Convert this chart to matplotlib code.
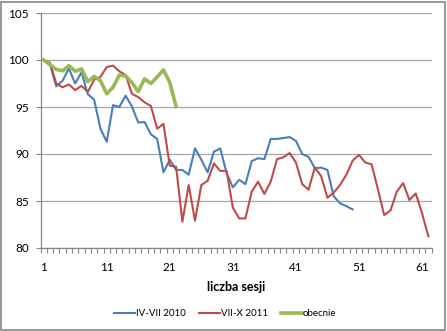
import matplotlib
matplotlib.use("Agg")
import matplotlib.pyplot as plt
from matplotlib.patches import Rectangle
from matplotlib.ticker import FixedLocator, NullFormatter

# Session index values (start = 100)
blue_2010 = [100.0, 99.55, 97.2, 97.8, 99.1, 97.5, 98.7, 96.35, 95.8, 92.7,
             91.3, 95.2, 95.0, 96.2, 95.05, 93.35, 93.4, 92.1, 91.6, 88.05,
             89.4, 88.3, 88.3, 87.8, 90.6, 89.4, 88.05, 90.25, 90.6, 88.0,
             86.45, 87.25, 86.8, 89.25, 89.55, 89.45, 91.6, 91.6, 91.7, 91.8,
             91.4, 90.0, 89.7, 88.5, 88.55, 88.3, 85.5, 84.75, 84.45, 84.1]
red_2011 = [100.0, 99.7, 97.5, 97.1, 97.4, 96.8, 97.25, 96.6, 97.9, 98.2,
            99.25, 99.4, 98.8, 98.4, 96.4, 96.05, 95.5, 95.1, 92.7, 93.2,
            88.75, 88.65, 82.8, 86.7, 82.9, 86.7, 87.15, 89.0, 88.2, 88.2,
            84.3, 83.15, 83.15, 86.0, 87.05, 85.75, 87.05, 89.45, 89.65, 90.1,
            89.1, 86.8, 86.2, 88.55, 87.65, 85.35, 85.9, 86.7, 87.8, 89.3,
            89.9, 89.1, 88.9, 86.25, 83.5, 84.0, 86.0, 86.9, 85.1, 85.8,
            83.7, 81.25]
green_now = [100.0, 99.5, 99.0, 98.85, 99.4, 98.8, 99.05, 97.7, 98.25, 97.8,
             96.4, 97.1, 98.4, 98.3, 97.6, 96.65, 98.0, 97.5, 98.2, 98.95,
             97.6, 95.05]

series_labels = ["IV-VII 2010", "VII-X 2011", "obecnie"]
x_tick_labels = [1, 11, 21, 31, 41, 51, 61]
y_ticks = [80, 85, 90, 95, 100, 105]
n_sessions = 62

plt.rcParams['font.family'] = ['Lato', 'DejaVu Sans']

fig = plt.figure(figsize=(4.47, 3.31), dpi=100)
ax = fig.add_axes([40.5 / 447, 1 - 248 / 331, 391 / 447, 235 / 331])

def sessions(vals):
    return list(range(1, len(vals) + 1))

ax.plot(sessions(blue_2010), blue_2010, color="#4A7EBB", lw=1.5,
        label=series_labels[0], solid_joinstyle="round")
ax.plot(sessions(red_2011), red_2011, color="#BE4B48", lw=1.5,
        label=series_labels[1], solid_joinstyle="round")
ax.plot(sessions(green_now), green_now, color="#98B954", lw=2.6,
        label=series_labels[2], solid_joinstyle="round")

ax.set_xlim(0.5, n_sessions + 0.5)
ax.set_ylim(80, 105)
ax.set_yticks(y_ticks)
ax.set_yticklabels([str(v) for v in y_ticks])
ax.xaxis.set_major_locator(FixedLocator(x_tick_labels))
ax.set_xticklabels([str(v) for v in x_tick_labels])
ax.xaxis.set_minor_locator(FixedLocator([i + 0.5 for i in range(0, n_sessions + 1)]))
ax.xaxis.set_minor_formatter(NullFormatter())

ax.tick_params(axis="x", which="major", length=0, pad=10, labelsize=8.5,
               colors="black")
ax.tick_params(axis="x", which="minor", length=3.5, width=0.8,
               color="#868686", direction="out")
ax.tick_params(axis="y", which="major", length=3.5, width=0.8,
               color="#868686", pad=5, labelsize=8.5)

ax.grid(axis="y", color="#A6A6A6", lw=0.9)
ax.set_axisbelow(True)
for side in ("top", "right"):
    ax.spines[side].set_visible(False)
for side in ("left", "bottom"):
    ax.spines[side].set_color("#868686")
    ax.spines[side].set_linewidth(0.9)

ax.set_xlabel("liczba sesji", fontsize=9, fontweight="bold", labelpad=6)

fig.legend(loc="center", bbox_to_anchor=(225 / 447, 1 - 314 / 331),
           ncol=3, frameon=False, fontsize=7, handlelength=2.2,
           handletextpad=0.05, columnspacing=1.35)

fig.patches.append(Rectangle((1 / 447, 1 / 331), 444 / 447, 328 / 331,
                             transform=fig.transFigure, fill=False,
                             edgecolor="#868686", lw=1.2))

fig.savefig("out.png", dpi=100)
